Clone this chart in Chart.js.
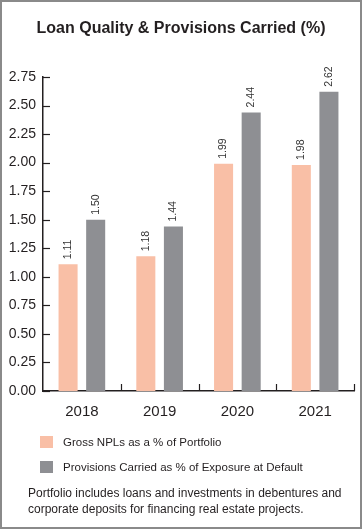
<!DOCTYPE html>
<html>
<head>
<meta charset="utf-8">
<script src="https://cdn.jsdelivr.net/npm/chart.js@4.4.1/dist/chart.umd.min.js"></script>
<style>
    html, body { margin: 0; padding: 0; background: #fff; }
    #frame {
        position: relative;
        width: 362px; height: 529px;
        box-sizing: border-box;
        border: 2px solid #8a8a8a;
        font-family: "Liberation Sans", Arial, sans-serif;
        color: #231f20;
        overflow: hidden;
    }
    #title {
        position: absolute; left: 0; right: 0; top: 17px;
        text-align: center; font-weight: bold; font-size: 16px;
    }
    #chartBox { position: absolute; left: -2px; top: -2px; width: 362px; height: 529px; }
    .legend-row { position: absolute; left: 38px; font-size: 11.5px; display: flex; align-items: center; }
    .legend-row span.sw { display: inline-block; width: 13px; height: 12px; margin-right: 10px; }
    #note { position: absolute; left: 26px; top: 483px; font-size: 12px; line-height: 16px; }
</style>
</head>
<body>
<div id="frame">
    <div id="chartBox"><canvas id="loanChart"></canvas></div>
    <div id="title">Loan Quality &amp; Provisions Carried (%)</div>
    <div class="legend-row" style="top:434px"><span class="sw" style="background:#f9bfa6"></span>Gross NPLs as a % of Portfolio</div>
    <div class="legend-row" style="top:459px"><span class="sw" style="background:#8e8f93"></span>Provisions Carried as % of Exposure at Default</div>
    <div id="note">Portfolio includes loans and investments in debentures and<br>corporate deposits for financing real estate projects.</div>
</div>
<script>
document.addEventListener('DOMContentLoaded', function() {

    // --- data ---
    const years = ['2018', '2019', '2020', '2021'];
    const grossNpl = [1.11, 1.18, 1.99, 1.98];
    const provisions = [1.50, 1.44, 2.44, 2.62];
    const yTicks = [0, 0.25, 0.5, 0.75, 1, 1.25, 1.5, 1.75, 2, 2.25, 2.5, 2.75];

    const ink = '#231f20';

    // inward tick marks on both axes
    const innerTicks = {
        id: 'innerTicks',
        afterDraw(chart) {
            const c = chart.ctx;
            const y = chart.scales.y, x = chart.scales.x;
            const area = chart.chartArea;
            c.save();
            c.strokeStyle = ink;
            c.lineWidth = 1.2;
            yTicks.forEach(v => {
                const py = Math.round(y.getPixelForValue(v)) + 0.5;
                c.beginPath();
                c.moveTo(area.left, py);
                c.lineTo(area.left + 7, py);
                c.stroke();
            });
            for (let i = 0; i < years.length; i++) {
                const px = Math.round(x.getPixelForValue(i + 0.5)) + 0.5;
                c.beginPath();
                c.moveTo(px, area.bottom);
                c.lineTo(px, area.bottom - 7);
                c.stroke();
            }
            c.restore();
        }
    };

    // rotated value labels above each bar
    const valueLabels = {
        id: 'valueLabels',
        afterDatasetsDraw(chart) {
            const c = chart.ctx;
            c.save();
            c.font = '10.5px "Liberation Sans", Arial, sans-serif';
            c.fillStyle = '#333';
            c.textAlign = 'left';
            c.textBaseline = 'middle';
            chart.data.datasets.forEach((ds, di) => {
                chart.getDatasetMeta(di).data.forEach((bar, i) => {
                    c.save();
                    c.translate(bar.x, bar.y - 5);
                    c.rotate(-Math.PI / 2);
                    c.fillText(ds.data[i].toFixed(2), 0, 0);
                    c.restore();
                });
            });
            c.restore();
        }
    };

    new Chart(document.getElementById('loanChart'), {
        type: 'bar',
        data: {
            labels: years,
            datasets: [{
                label: 'Gross NPLs as a % of Portfolio',
                data: grossNpl,
                backgroundColor: '#f9bfa6'
            }, {
                label: 'Provisions Carried as % of Exposure at Default',
                data: provisions,
                backgroundColor: '#8e8f93'
            }]
        },
        options: {
            responsive: true,
            maintainAspectRatio: false,
            animation: false,
            layout: { padding: { top: 77, right: 8, bottom: 108, left: 0 } },
            datasets: { bar: { categoryPercentage: 0.71, barPercentage: 0.69 } },
            plugins: {
                legend: { display: false },
                tooltip: { enabled: false }
            },
            scales: {
                x: {
                    grid: { display: false, drawTicks: false },
                    border: { color: ink, width: 1.5 },
                    ticks: { color: ink, font: { size: 15, family: '"Liberation Sans", Arial, sans-serif' }, padding: 12 },
                    afterFit: s => { s.height = 30; }
                },
                y: {
                    min: 0, max: 2.75,
                    grid: { display: false, drawTicks: false },
                    border: { color: ink, width: 1.5 },
                    afterBuildTicks: s => { s.ticks = yTicks.map(v => ({ value: v })); },
                    ticks: {
                        color: ink,
                        padding: 7,
                        font: { size: 14, family: '"Liberation Sans", Arial, sans-serif' },
                        callback: v => Number(v).toFixed(2)
                    },
                    afterFit: s => { s.width = 43; }
                }
            }
        },
        plugins: [innerTicks, valueLabels]
    });
});
</script>
</body>
</html>
